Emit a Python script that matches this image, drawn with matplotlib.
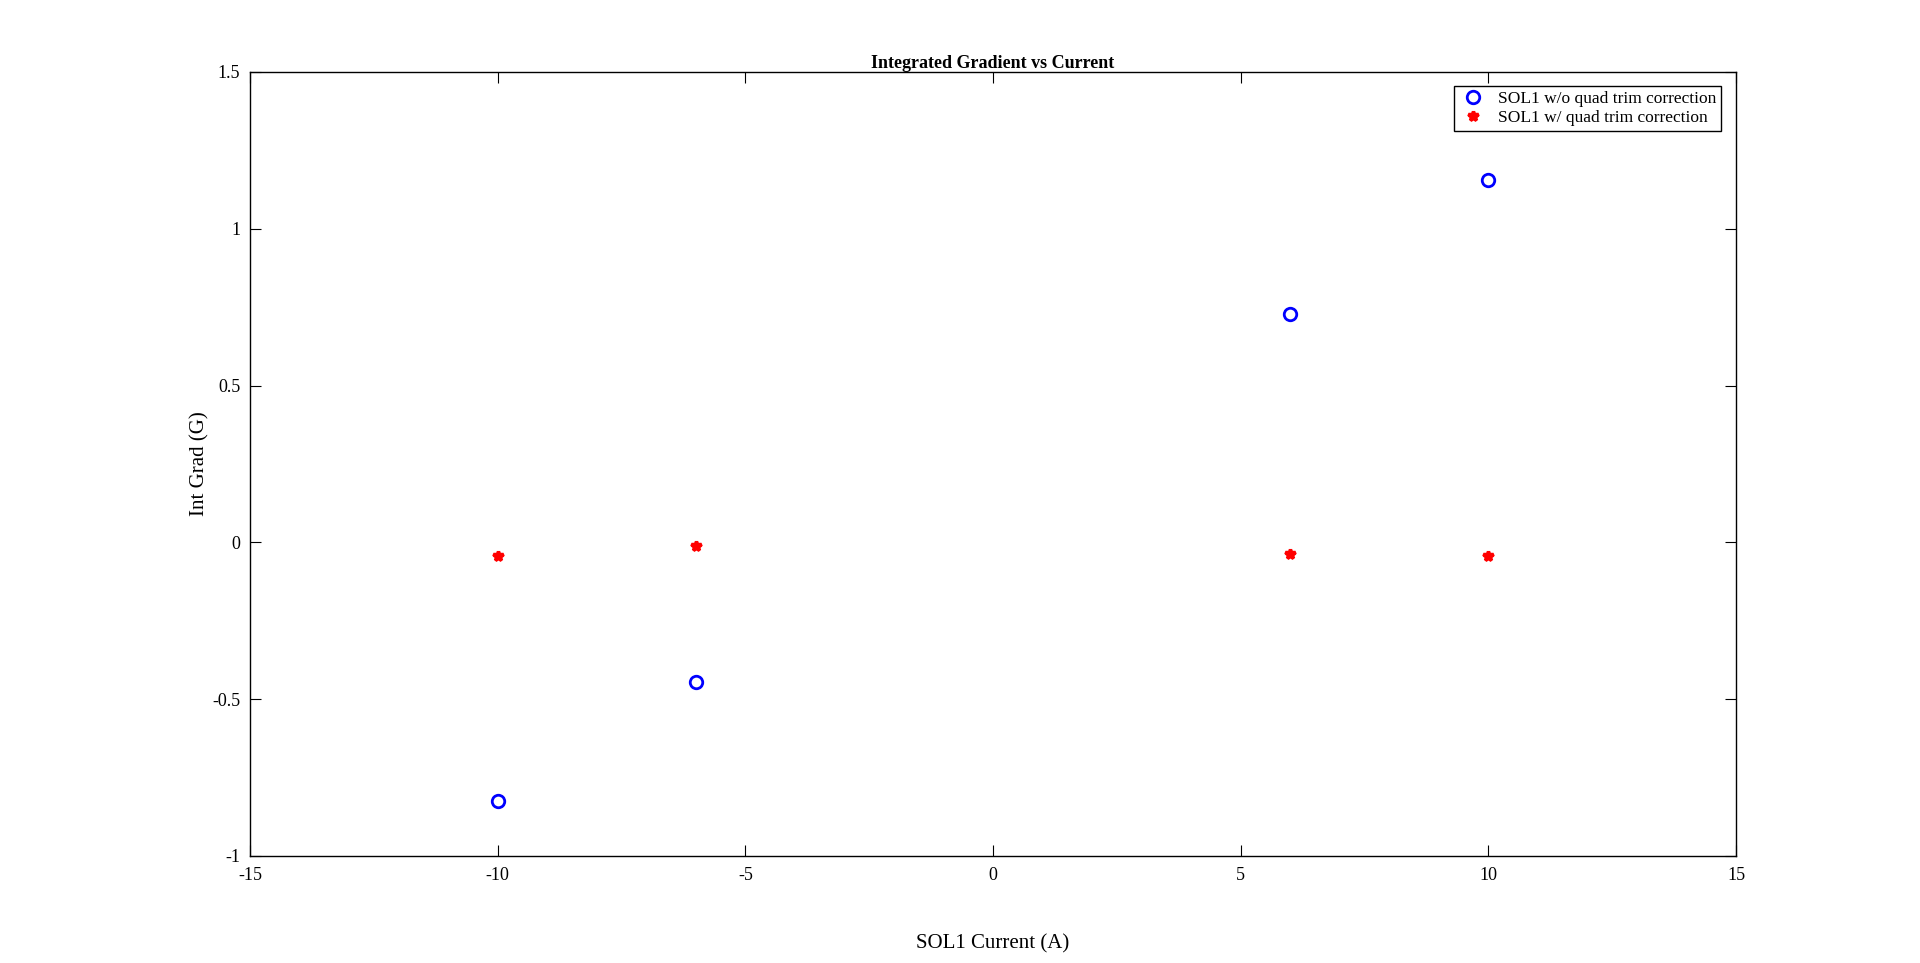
import matplotlib.pyplot as plt

# SOL1 current settings (A)
current = [-10, -6, 6, 10]
# integrated gradient without / with quad trim correction (G)
grad_no_trim = [-0.826, -0.446, 0.727, 1.156]
grad_trim = [-0.043, -0.013, -0.038, -0.043]

plt.rcParams['font.family'] = ['Liberation Serif', 'DejaVu Serif']

fig = plt.figure(figsize=(19.2, 9.63), dpi=100)
ax = fig.add_axes([250/1920, 1 - 856/963, (1736-250)/1920, (856-72)/963])

ax.plot(current, grad_no_trim, 'o', color='blue', mfc='none', mew=2, ms=9,
        label='SOL1 w/o quad trim correction')
ax.plot(current, grad_trim, '*', color='red', mew=2.5, ms=7,
        label='SOL1 w/ quad trim correction')

ax.set_xlim(-15, 15)
ax.set_ylim(-1, 1.5)
ax.set_xticks(range(-15, 16, 5))
ax.set_yticks([-1, -0.5, 0, 0.5, 1, 1.5])
ax.set_yticklabels(['-1', '-0.5', '0', '0.5', '1', '1.5'])
ax.set_xticklabels([str(v) for v in range(-15, 16, 5)])
ax.tick_params(direction='in', top=True, right=True, labelsize=13, length=8)
ax.tick_params(axis='x', pad=8)
ax.tick_params(axis='y', pad=7)
for s in ax.spines.values():
    s.set_linewidth(1.0)

ax.set_title('Integrated Gradient vs Current', fontsize=13, fontweight='bold', pad=3)
ax.set_xlabel('SOL1 Current (A)', fontsize=15, labelpad=36)
ax.set_ylabel('Int Grad (G)', fontsize=15, labelpad=2)

leg = ax.legend(loc='upper right', fontsize=12.5, fancybox=False, edgecolor='black',
                framealpha=1, borderaxespad=0.8, handletextpad=0.6, labelspacing=0.15,
                borderpad=0.3, handlelength=1.6, bbox_to_anchor=(0.9995, 1.0))
leg.get_frame().set_linewidth(1.0)

fig.savefig('out.png', dpi=100)
